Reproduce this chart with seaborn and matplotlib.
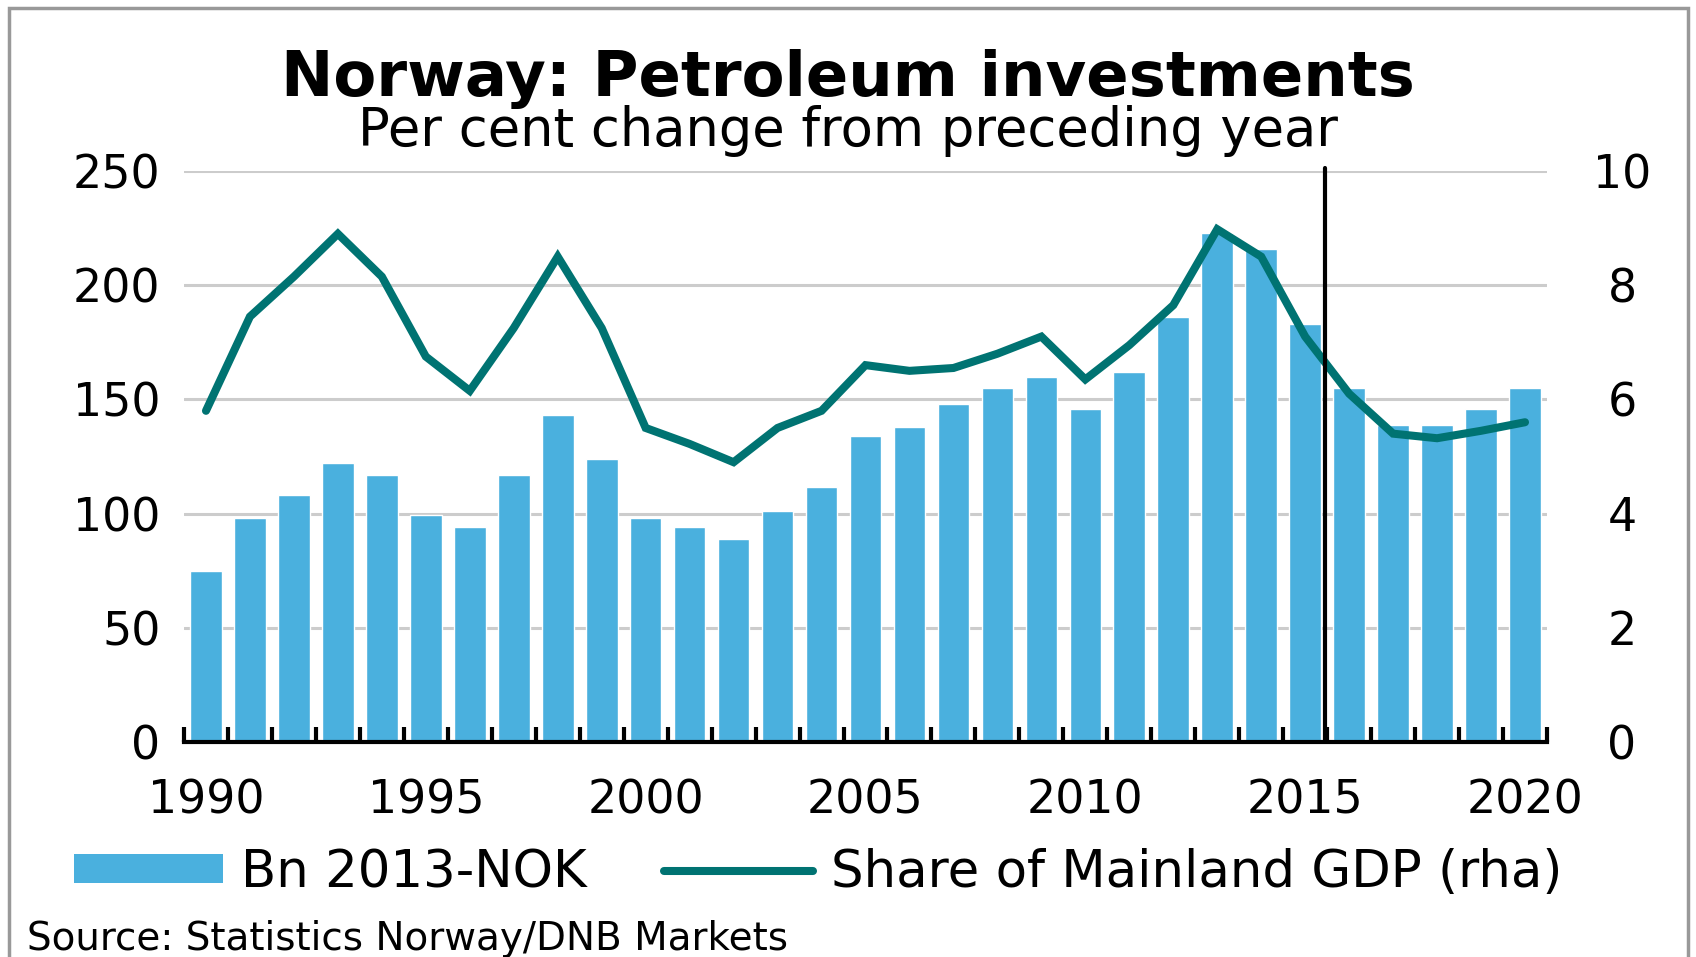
import numpy as np
import pandas as pd
import matplotlib
matplotlib.use("Agg")
import matplotlib.pyplot as plt
from matplotlib.patches import Patch, Rectangle
from matplotlib.lines import Line2D
import seaborn as sns

# ---------------------------
# data
# ---------------------------
years = list(range(1990, 2021))
invest_bn = [75, 98, 108, 122, 117, 99.5, 94, 117, 143, 124,
             98, 94, 89, 101, 111.5, 134, 138, 148, 155, 160,
             146, 162, 186, 223, 216, 183, 155, 139, 139, 146, 155]
gdp_share = [5.8, 7.45, 8.15, 8.9, 8.15, 6.75, 6.15, 7.25, 8.5, 7.25,
             5.5, 5.22, 4.9, 5.5, 5.8, 6.6, 6.5, 6.55, 6.8, 7.1,
             6.35, 6.95, 7.65, 8.98, 8.5, 7.1, 6.1, 5.4, 5.32, 5.45, 5.6]
year_labels = [1990, 1995, 2000, 2005, 2010, 2015, 2020]
left_ticks = [0, 50, 100, 150, 200, 250]
right_ticks = [0, 2, 4, 6, 8, 10]
forecast_start = 2015.45

title = "Norway: Petroleum investments"
subtitle = "Per cent change from preceding year"
bar_label = "Bn 2013-NOK"
line_label = "Share of Mainland GDP (rha)"
source = "Source: Statistics Norway/DNB Markets"

BAR_COLOR = "#4AB0DE"
LINE_COLOR = "#007372"
GRID_COLOR = "#CCCCCC"

df = pd.DataFrame({"year": [str(y) for y in years], "invest": invest_bn,
                   "share": gdp_share, "pos": np.arange(len(years))})

# ---------------------------
# figure
# ---------------------------
sns.set_style("white")
plt.rcParams["font.family"] = ["DejaVu Sans"]
plt.rcParams["text.color"] = "black"
plt.rcParams["xtick.color"] = "black"
plt.rcParams["ytick.color"] = "black"

fig = plt.figure(figsize=(16.96, 9.57), dpi=100)
ax = fig.add_axes([184 / 1696, 1 - 742 / 957, (1547 - 184) / 1696, (742 - 171) / 957])

sns.barplot(data=df, x="year", y="invest", color=BAR_COLOR, saturation=1,
            width=0.72, ax=ax, zorder=2)
ax.set_xlim(-0.5, len(years) - 0.5)
ax.set_ylim(0, 250)
ax.set_yticks(left_ticks)
ax.yaxis.grid(True, color=GRID_COLOR, lw=2.2)
ax.set_axisbelow("line")
ax.set_xlabel("")
ax.set_ylabel("")
for s in ["top", "right", "left"]:
    ax.spines[s].set_visible(False)
ax.spines["bottom"].set_linewidth(3)
ax.spines["bottom"].set_color("black")
ax.spines["bottom"].set_zorder(3)

# year labels under the bars, tick marks on the category boundaries
ax.set_xticks([years.index(y) for y in year_labels])
ax.set_xticklabels([str(y) for y in year_labels])
ax.set_xticks(np.arange(len(years) + 1) - 0.5, minor=True)
ax.tick_params(axis="x", which="major", bottom=True, length=0, pad=26, labelsize=33)
ax.tick_params(axis="x", which="minor", bottom=True, direction="in", length=11,
               width=3, color="black")
ax.tick_params(axis="y", length=0, pad=17, labelsize=33)

ax2 = ax.twinx()
sns.lineplot(data=df, x="pos", y="share", color=LINE_COLOR, lw=5.8, ax=ax2,
             solid_capstyle="round", solid_joinstyle="miter", zorder=3)
ax2.set_ylim(0, 10)
ax2.set_yticks(right_ticks)
ax2.set_xlim(-0.5, len(years) - 0.5)
ax2.set_ylabel("")
ax2.set_xlabel("")
for s in ax2.spines.values():
    s.set_visible(False)
ax2.tick_params(axis="y", length=0, pad=54, labelsize=33)
for lab in ax2.get_yticklabels():
    lab.set_horizontalalignment("center")

# forecast divider
ax2.axvline(forecast_start - years[0], ymin=0, ymax=1.005, color="black", lw=3,
            zorder=4, clip_on=False)

# titles
fig.text(0.5, 1 - 79 / 957, title, ha="center", va="center", fontsize=45,
         fontweight="bold")
fig.text(0.5, 1 - 131 / 957, subtitle, ha="center", va="center", fontsize=38)

# legend
handles = [Patch(facecolor=BAR_COLOR, edgecolor="none"),
           Line2D([], [], color=LINE_COLOR, lw=5.8, solid_capstyle="round")]
fig.legend(handles, [bar_label, line_label], loc="center left",
           bbox_to_anchor=(74 / 1696, 1 - 873 / 957), ncol=2, frameon=False,
           fontsize=37, handlelength=2.9, handleheight=0.5, handletextpad=0.35,
           columnspacing=1.5, borderpad=0, borderaxespad=0)

fig.text(27 / 1696, 1 - 939 / 957, source, ha="left", va="center", fontsize=28)

# outer frame
fig.patches.append(Rectangle((9 / 1696, -0.1), (1688 - 9) / 1696, 1.1 - 8 / 957,
                             transform=fig.transFigure, fill=False,
                             edgecolor="#999999", lw=2.5))

fig.savefig("out.png", dpi=100)
plt.close(fig)
